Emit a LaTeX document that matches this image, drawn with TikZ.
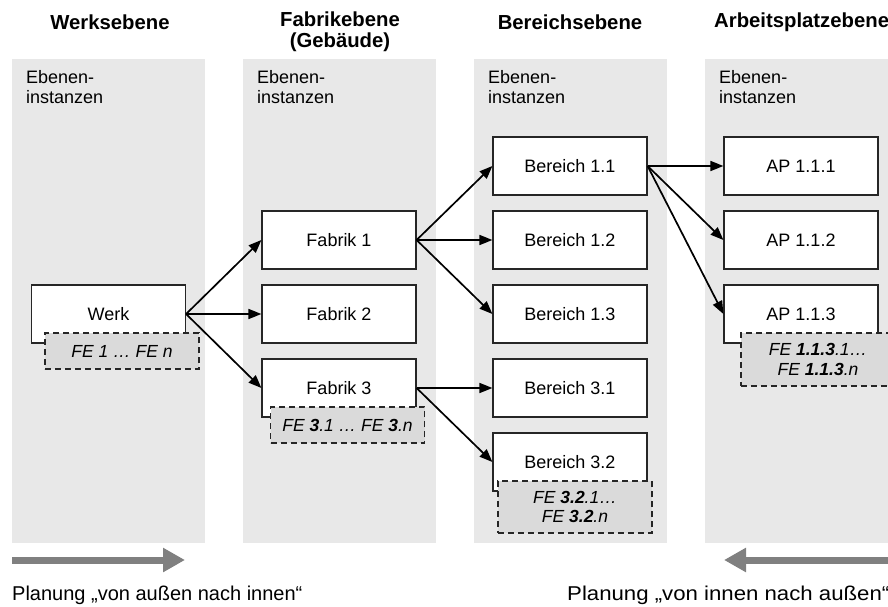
\documentclass[tikz,border=0pt]{standalone}
\usepackage{fontspec}
\setmainfont{Liberation Sans}
\usetikzlibrary{arrows.meta}
\definecolor{lanegray}{HTML}{E8E8E8}
\definecolor{subgray}{HTML}{DADADA}
\definecolor{boxline}{HTML}{262626}
\definecolor{flowgray}{HTML}{808080}
\begin{document}
\begin{tikzpicture}[x=1pt,y=-1pt,
  lane/.style={fill=lanegray,draw=none},
  lanelabel/.style={anchor=north west,align=left,inner sep=0pt,
    font=\fontsize{18}{20.5}\selectfont},
  header/.style={align=center,inner sep=0pt,font=\fontsize{20.3}{21}\selectfont\bfseries},
  unit/.style={draw=boxline,fill=white,line width=1.2pt,minimum width=154pt,
    minimum height=58pt,inner sep=0pt,font=\fontsize{18}{21}\selectfont},
  subset/.style={draw=boxline,fill=subgray,dash pattern=on 6pt off 4pt,line width=1.2pt,
    minimum width=154pt,inner sep=0pt,align=center,
    font=\fontsize{17.5}{19.5}\selectfont\itshape},
  link/.style={-{Triangle[length=13pt,width=10pt]},line width=1.7pt,draw=black},
  flow/.style={line width=7pt,draw=flowgray,-{Triangle[length=22pt,width=23pt]}},
  note/.style={inner sep=0pt,font=\fontsize{20}{22}\selectfont}
]
\useasboundingbox (0,0) rectangle (888,607);

% lanes
\fill[lane] (12,59) rectangle (205,543);
\fill[lane] (243,59) rectangle (436,543);
\fill[lane] (474,59) rectangle (667,543);
\fill[lane] (705,59) rectangle (898,543);

% headers
\node[header] (h1) at (110,22) {Werksebene};
\node[header] (h2) at (340,32) {Fabrikebene\\(Gebäude)};
\node[header] (h3) at (570,22) {Bereichsebene};
\node[header,anchor=west] (h4) at (714,22) {Arbeitsplatzebene};

% lane labels
\node[lanelabel] (l1) at (26,70) {Ebenen-\\instanzen};
\node[lanelabel] (l2) at (257,70) {Ebenen-\\instanzen};
\node[lanelabel] (l3) at (488,70) {Ebenen-\\instanzen};
\node[lanelabel] (l4) at (719,70) {Ebenen-\\instanzen};

% plant level
\node[unit] (werk) at (108.5,314) {Werk};
\node[subset,minimum height=36pt] (werkfe) at (122,351) {FE 1 … FE n};

% factory level
\node[unit] (fab1) at (339,240) {Fabrik 1};
\node[unit] (fab2) at (339,314) {Fabrik 2};
\node[unit] (fab3) at (339,388) {Fabrik 3};
\node[subset,minimum height=36pt] (fab3fe) at (347.5,425)
  {FE \textbf{3}.1 … FE \textbf{3}.n};

% area level
\node[unit] (b11) at (570,166) {Bereich 1.1};
\node[unit] (b12) at (570,240) {Bereich 1.2};
\node[unit] (b13) at (570,314) {Bereich 1.3};
\node[unit] (b31) at (570,388) {Bereich 3.1};
\node[unit] (b32) at (570,462) {Bereich 3.2};
\node[subset,minimum height=52pt] (b32fe) at (575,507)
  {FE \textbf{3.2}.1…\\FE \textbf{3.2}.n};

% workplace level
\node[unit] (ap1) at (801,166) {AP 1.1.1};
\node[unit] (ap2) at (801,240) {AP 1.1.2};
\node[unit] (ap3) at (801,314) {AP 1.1.3};
\node[subset,minimum height=53pt] (ap3fe) at (818,359.5)
  {FE \textbf{1.1.3}.1…\\FE \textbf{1.1.3}.n};

% connectors
\draw[link] (werk.east) -- (fab1.west);
\draw[link] (werk.east) -- (fab2.west);
\draw[link] (werk.east) -- (fab3.west);
\draw[link] (fab1.east) -- (b11.west);
\draw[link] (fab1.east) -- (b12.west);
\draw[link] (fab1.east) -- (b13.west);
\draw[link] (fab3.east) -- (b31.west);
\draw[link] (fab3.east) -- (b32.west);
\draw[link] (b11.east) -- (ap1.west);
\draw[link] (b11.east) -- (ap2.west);
\draw[link] (b11.east) -- (ap3.west);

% planning directions
\coordinate (outA) at (12,560);
\coordinate (outB) at (185,560);
\coordinate (inA) at (890,560);
\coordinate (inB) at (724,560);
\draw[flow] (outA) -- (outB);
\draw[flow] (inA) -- (inB);
\node[note,anchor=base west] (n1) at (12,600) {Planung „von außen nach innen“};
\node[note,anchor=base west,xscale=1.11] (n2) at (567,600) {Planung „von innen nach außen“};
\end{tikzpicture}
\end{document}
